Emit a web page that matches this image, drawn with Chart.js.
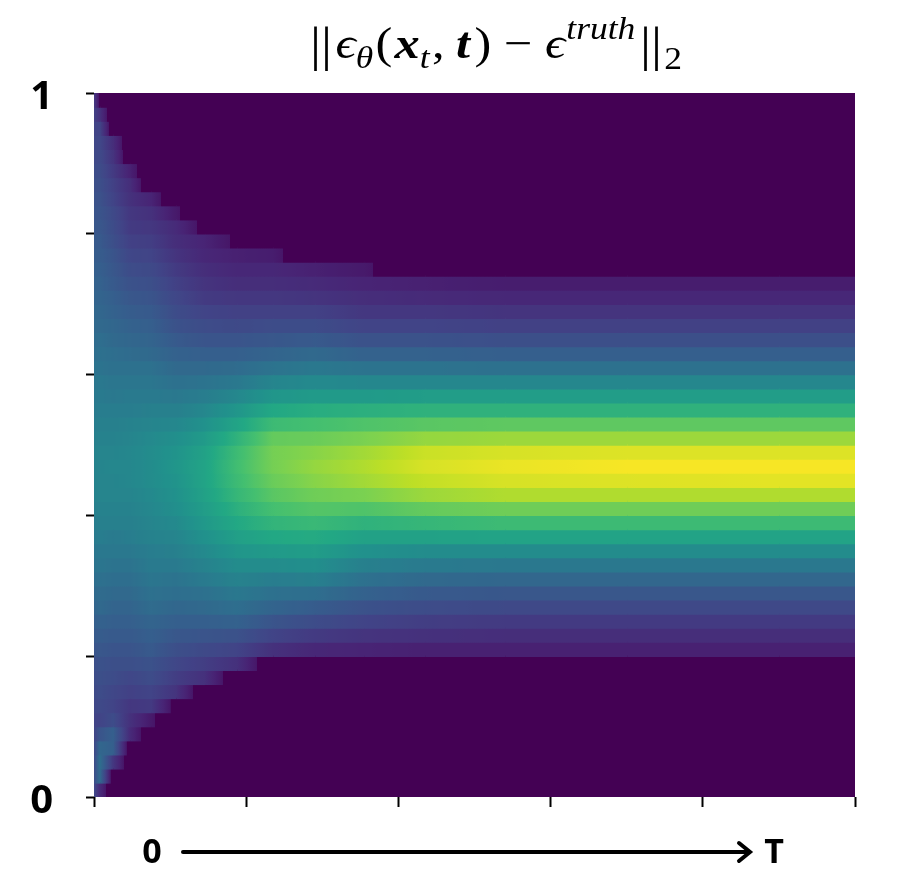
<!DOCTYPE html>
<html><head><meta charset="utf-8">
<script src="https://cdn.jsdelivr.net/npm/chart.js@4.4.0/dist/chart.umd.min.js"></script>
<style>html,body{margin:0;padding:0;background:#fff;}#wrap{width:920px;height:883px;}</style>
</head><body><div id="wrap"><canvas id="c" width="920" height="883"></canvas></div>
<script>
// sample positions along the time axis (0 .. T normalised to 0..1)
const nodeX = [0, 0.0075, 0.025, 0.0475, 0.075, 0.1075, 0.145, 0.1875, 0.235, 0.29, 0.355, 0.435, 0.54, 0.7, 0.9, 1.0];
const rowCount = 50;               // grid rows from y=0 (bottom) to y=1 (top)
const yTickValues = [0, 0.2, 0.4, 0.6, 0.8, 1];
const yTickText = ['0', '', '', '', '', '1'];
const xTickValues = [0, 0.2, 0.4, 0.6, 0.8, 1];
const xStartLabel = '0';
const xEndLabel = 'T';

// error magnitude (0..100 of the colour range) read at each sample position, bottom row -> top row
const n00 = [22,23,22,21,20,20,21,22,23,24,26,28,30,32,34,36,38,39,41,42,43,44,44,44,44,43,42,41,40,39,38,36,35,34,33,32,31,30,29,28,27,26,25,24,23,22,21,20,19,17];
const n01 = [12,34,36,33,26,20,22,23,24,25,27,29,31,34,35,37,39,40,42,43,44,45,45,45,45,44,43,42,41,40,38,37,36,34,33,32,31,30,29,28,27,26,25,24,23,22,21,20,14,4];
const n02 = [0,0,16,30,30,23,20,21,23,24,26,28,30,32,34,36,38,40,41,43,44,45,45,46,45,44,43,42,40,39,37,36,34,33,31,30,28,27,26,24,23,22,20,19,17,15,13,0,0,0];
const n03 = [0,0,0,0,12,14,16,19,21,24,26,28,30,32,34,36,38,40,42,43,44,45,46,46,46,45,44,42,41,39,37,35,33,31,29,27,25,23,21,19,17,16,14,13,9,0,0,0,0,0];
const n04 = [0,0,0,0,0,7,17,20,23,25,28,30,32,35,37,39,41,42,44,45,46,47,48,48,48,47,45,43,41,39,37,34,32,30,28,26,24,22,20,18,16,14,10,0,0,0,0,0,0,0];
const n05 = [0,0,0,0,0,0,3,15,18,21,24,27,30,33,36,38,41,43,45,47,49,50,51,52,51,49,46,43,40,37,34,31,28,25,23,21,19,17,15,13,12,7,0,0,0,0,0,0,0,0];
const n06 = [0,0,0,0,0,0,0,0,14,18,22,26,30,34,37,41,44,47,50,53,55,57,58,58,57,54,50,46,42,38,34,30,26,23,20,17,15,13,11,10,4,0,0,0,0,0,0,0,0,0];
const n07 = [0,0,0,0,0,0,0,0,0,14,20,25,31,36,40,44,48,52,56,60,63,66,68,69,68,64,58,52,46,40,35,30,26,22,19,16,13,11,9,5,0,0,0,0,0,0,0,0,0,0];
const n08 = [0,0,0,0,0,0,0,0,0,0,14,20,26,32,37,42,48,54,60,65,70,74,77,79,79,76,68,60,52,45,38,32,27,23,19,16,13,11,8,0,0,0,0,0,0,0,0,0,0,0];
const n09 = [0,0,0,0,0,0,0,0,0,0,11,17,23,29,36,43,49,55,61,67,73,78,82,84,82,77,70,62,54,47,40,34,28,23,19,15,12,9,0,0,0,0,0,0,0,0,0,0,0,0];
const n10 = [0,0,0,0,0,0,0,0,0,0,10,15,20,25,31,37,43,50,57,64,72,80,86,88,86,80,72,63,54,46,38,31,25,20,16,13,10,7,0,0,0,0,0,0,0,0,0,0,0,0];
const n11 = [0,0,0,0,0,0,0,0,0,0,9,14,18,23,28,34,41,48,57,66,76,85,91,94,92,84,74,64,55,46,38,31,25,20,16,12,9,0,0,0,0,0,0,0,0,0,0,0,0,0];
const n12 = [0,0,0,0,0,0,0,0,0,0,9,13,17,22,27,33,40,48,58,68,78,88,94,97,94,85,75,64,55,46,37,30,24,19,15,11,8,0,0,0,0,0,0,0,0,0,0,0,0,0];
const n13 = [0,0,0,0,0,0,0,0,0,0,9,13,17,22,27,33,40,48,58,68,78,88,95,99,95,85,75,64,55,46,37,30,24,19,15,11,8,0,0,0,0,0,0,0,0,0,0,0,0,0];
const n14 = [0,0,0,0,0,0,0,0,0,0,9,13,17,22,27,33,40,48,58,68,78,88,96,99,95,85,75,64,55,46,37,30,24,19,15,11,8,0,0,0,0,0,0,0,0,0,0,0,0,0];
const n15 = [0,0,0,0,0,0,0,0,0,0,9,13,17,22,27,33,40,48,58,68,78,88,96,99,95,85,75,64,55,46,37,30,24,19,15,11,8,0,0,0,0,0,0,0,0,0,0,0,0,0];
const nodeValues = [n00,n01,n02,n03,n04,n05,n06,n07,n08,n09,n10,n11,n12,n13,n14,n15];

// viridis colour map; values under the floor use the darkest colour
const VIR = [[68,1,84],[72,36,117],[65,68,135],[53,95,141],[42,120,142],[33,145,140],[34,168,132],[68,191,112],[122,209,81],[189,223,38],[253,231,37]];
const FLOOR = 0.06;
function viridis(t) {
  t = Math.max(0, Math.min(1, t));
  const p = t * 10, i = Math.min(9, Math.floor(p)), f = p - i;
  const a = VIR[i], b = VIR[i + 1];
  return 'rgb(' + [0,1,2].map(k => Math.round(a[k] + (b[k] - a[k]) * f)).join(',') + ')';
}
function cmap(v) { return v < FLOOR ? viridis(0) : viridis(v); }

function cellFill(c) {
  if (c.type !== 'data') return viridis(0);
  const chart = c.chart, xs = chart.scales.x;
  const k = c.datasetIndex, r = c.dataIndex;
  const v0 = nodeValues[k][r] / 100, v1 = nodeValues[k + 1][r] / 100;
  if (!xs || xs.width === undefined) return cmap((v0 + v1) / 2);
  const p0 = xs.getPixelForValue(nodeX[k]), p1 = xs.getPixelForValue(nodeX[k + 1]);
  if (!isFinite(p0) || !isFinite(p1)) return cmap((v0 + v1) / 2);
  const g = chart.ctx.createLinearGradient(p0, 0, p1, 0);
  const stops = [];
  const N = 10;
  for (let s = 0; s <= N; s++) {
    const f = s / N;
    stops.push([f, cmap(v0 + (v1 - v0) * f)]);
  }
  if ((v0 - FLOOR) * (v1 - FLOOR) < 0) {
    const fc = (FLOOR - v0) / (v1 - v0);
    const below = viridis(0), above = viridis(FLOOR);
    const first = v0 < FLOOR ? below : above, second = v0 < FLOOR ? above : below;
    stops.push([Math.max(0, fc - 0.0005), first]);
    stops.push([Math.min(1, fc + 0.0005), second]);
  }
  stops.sort((a, b) => a[0] - b[0]);
  stops.forEach(s => g.addColorStop(s[0], s[1]));
  return g;
}

const rowLabels = Array.from({length: rowCount}, (_, i) => 'r' + i);
const datasets = nodeValues.slice(0, -1).map((vals, k) => ({
  data: vals.map(() => [nodeX[k], nodeX[k + 1]]),
  backgroundColor: cellFill,
  borderWidth: 0,
  grouped: false,
  categoryPercentage: 1,
  barPercentage: 1,
  inflateAmount: 0.7,
  xAxisID: 'x',
  yAxisID: 'yRows'
}));

const SERIF = '"Liberation Serif", "DejaVu Serif", serif';
const annotPlugin = {
  id: 'mathTitle',
  afterDraw(chart) {
    const ctx = chart.ctx;
    const M = 44, s = 31;
    const runs = [
      {t: '||', f: (M + 4) + 'px ' + SERIF, dy: 3, g: 3},
      {t: '\u03F5', f: 'italic ' + M + 'px ' + SERIF, dy: 0},
      {t: '\u03B8', f: 'italic ' + s + 'px ' + SERIF, dy: 10, g: 2},
      {t: '(', f: M + 'px ' + SERIF, dy: 0, g: 2},
      {t: 'x', f: 'bold italic ' + M + 'px ' + SERIF, dy: 0},
      {t: 't', f: 'italic ' + s + 'px ' + SERIF, dy: 10, g: 2},
      {t: ',', f: M + 'px ' + SERIF, dy: 0, g: 10},
      {t: 't', f: 'bold italic ' + M + 'px ' + SERIF, dy: 0, g: 4},
      {t: ')', f: M + 'px ' + SERIF, dy: 0},
      {t: ' \u2212 ', f: M + 'px ' + SERIF, dy: 0},
      {t: '\u03F5', f: 'italic ' + M + 'px ' + SERIF, dy: 0, g: 1},
      {t: 'truth', f: 'italic ' + s + 'px ' + SERIF, dy: -19, g: 4},
      {t: '||', f: (M + 4) + 'px ' + SERIF, dy: 3, g: 2},
      {t: '2', f: s + 'px ' + SERIF, dy: 11}
    ];
    ctx.save();
    ctx.fillStyle = '#000';
    ctx.textBaseline = 'alphabetic';
    ctx.textAlign = 'left';
    let total = 0;
    runs.forEach(r => { ctx.font = r.f; r.w = ctx.measureText(r.t).width + (r.g || 0); total += r.w; });
    const target = 372;
    const sx = Math.max(0.85, Math.min(1.25, target / total));
    const left = 496 - total * sx / 2;
    const base = 58;
    ctx.translate(left, 0);
    ctx.scale(sx, 1);
    let x = 0;
    runs.forEach(r => { ctx.font = r.f; ctx.fillText(r.t, x, base + r.dy); x += r.w; });
    ctx.restore();

    // time axis caption: 0 -----> T
    ctx.save();
    ctx.fillStyle = '#000';
    ctx.font = 'bold 34px "Open Sans", "DejaVu Sans", sans-serif';
    ctx.textAlign = 'center';
    ctx.textBaseline = 'alphabetic';
    ctx.fillText(xStartLabel, 152, 863);
    ctx.fillText(xEndLabel, 774, 863);
    ctx.strokeStyle = '#000';
    ctx.lineWidth = 4;
    ctx.lineCap = 'round';
    ctx.lineJoin = 'miter';
    ctx.beginPath(); ctx.moveTo(183, 852); ctx.lineTo(748, 852); ctx.stroke();
    ctx.beginPath(); ctx.moveTo(739, 843); ctx.lineTo(750, 852); ctx.lineTo(739, 861); ctx.stroke();
    ctx.restore();
  }
};

new Chart(document.getElementById('c'), {
  type: 'bar',
  data: {labels: rowLabels, datasets},
  options: {
    indexAxis: 'y',
    responsive: false,
    animation: false,
    events: [],
    devicePixelRatio: 1,
    layout: {padding: {top: 93, right: 65, left: 0, bottom: 0}},
    plugins: {legend: {display: false}, tooltip: {enabled: false}, title: {display: false}},
    scales: {
      x: {
        type: 'linear', position: 'bottom', min: 0, max: 1, offset: false,
        afterFit(s) { s.height = 86; },
        afterBuildTicks(s) { s.ticks = xTickValues.map(v => ({value: v})); },
        ticks: {callback: () => '', autoSkip: false},
        grid: {offset: false, drawOnChartArea: false, drawTicks: true, tickLength: 10, tickWidth: 2, tickColor: '#000'},
        border: {display: false}
      },
      yRows: {
        type: 'category', axis: 'y', position: 'left', reverse: true, display: false,
        offset: true, grid: {display: false}
      },
      yTicks: {
        type: 'linear', axis: 'y', position: 'left', min: 0, max: 1, offset: false,
        afterFit(s) { s.width = 94; },
        afterBuildTicks(s) { s.ticks = yTickValues.map(v => ({value: v})); },
        ticks: {
          autoSkip: false,
          callback: (v, i) => yTickText[i],
          font: {family: '"Open Sans", "DejaVu Sans", sans-serif', weight: 'bold', size: 40},
          color: '#000', padding: 33, labelOffset: 5
        },
        grid: {offset: false, drawOnChartArea: false, drawTicks: true, tickLength: 8, tickWidth: 2, tickColor: '#000'},
        border: {display: false}
      }
    }
  },
  plugins: [annotPlugin]
});
</script></body></html>
